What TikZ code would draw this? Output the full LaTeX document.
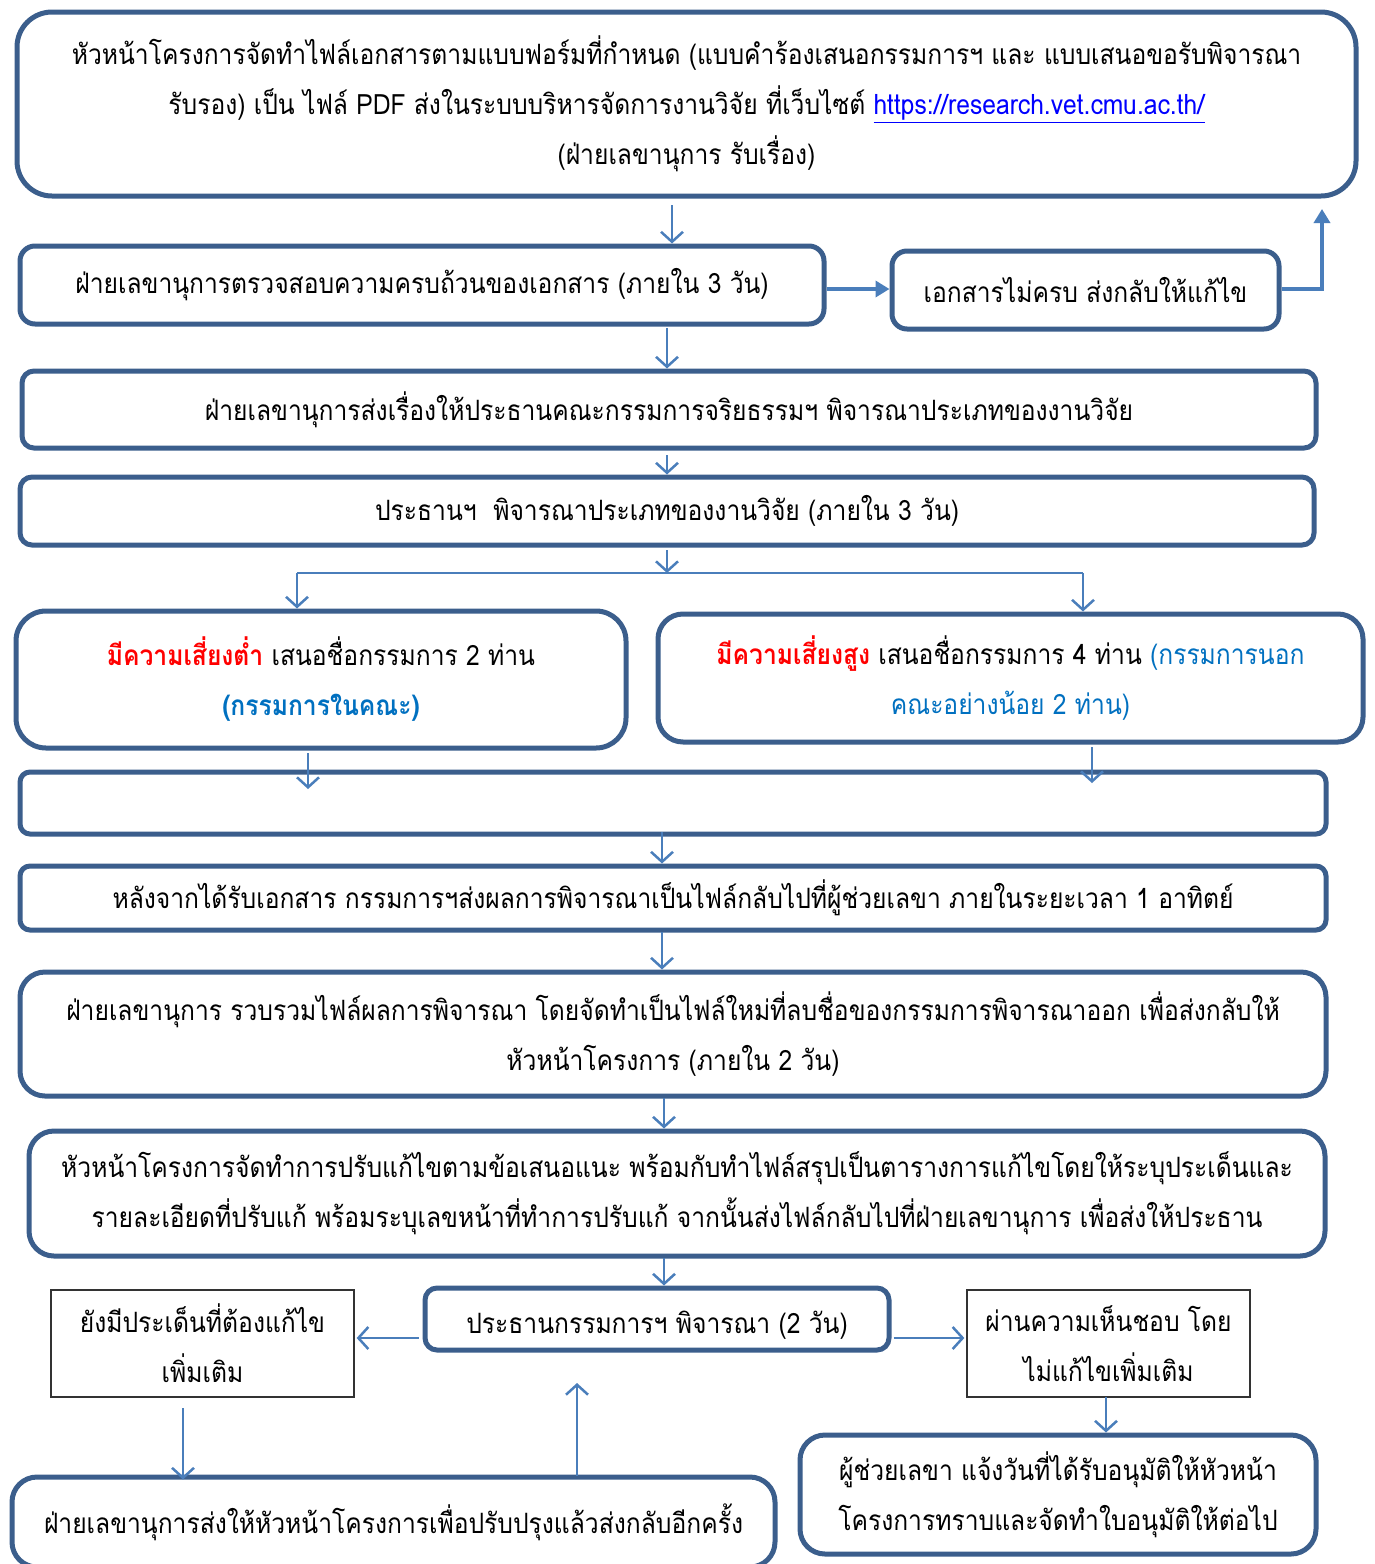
\documentclass[tikz,border=0pt]{standalone}
\usepackage{fontspec}
\setmainfont[Script=Thai,FakeStretch=0.88]{Loma}
\usetikzlibrary{arrows.meta}
\definecolor{boxc}{HTML}{3B5E8C}
\definecolor{arrc}{HTML}{4A7EBB}
\definecolor{blu}{HTML}{0070C0}
\definecolor{urlc}{HTML}{0000FF}
\begin{document}
\begin{tikzpicture}[x=1pt,y=-1pt,
  every node/.style={font=\fontsize{28}{50}\selectfont, align=center, inner sep=0pt},
  rbox/.style={draw=boxc, line width=5pt, rounded corners=#1, fill=white},
  pbox/.style={draw=black!80, line width=1.3pt, fill=white},
  conn/.style={draw=arrc, line width=2.5pt, -{Straight Barb[length=10pt,width=22pt,line width=2.5pt]}},
  thick conn/.style={draw=arrc, line width=4pt, -{Triangle[length=14pt,width=16pt]}},
  plainline/.style={draw=arrc, line width=2.5pt}
]
\useasboundingbox (0,0) rectangle (1375,1564);
% boxes
\node[rbox=35, minimum width=1339, minimum height=184] (b1) at (686.5,104) {หัวหน้าโครงการจัดทำไฟล์เอกสารตามแบบฟอร์มที่กำหนด (แบบคำร้องเสนอกรรมการฯ และ แบบเสนอขอรับพิจารณา\\ รับรอง) เป็น ไฟล์ PDF ส่งในระบบบริหารจัดการงานวิจัย ที่เว็บไซต์ {\color{urlc}\underline{https://research.vet.cmu.ac.th/}}\\ (ฝ่ายเลขานุการ รับเรื่อง)};
\node[rbox=15, minimum width=804, minimum height=78] (b2) at (422,285) {ฝ่ายเลขานุการตรวจสอบความครบถ้วนของเอกสาร (ภายใน 3 วัน)};
\node[rbox=15, minimum width=387, minimum height=78] (b3) at (1085.5,290) {เอกสารไม่ครบ ส่งกลับให้แก้ไข};
\node[rbox=12, minimum width=1294, minimum height=77] (b4) at (669,409.5) {ฝ่ายเลขานุการส่งเรื่องให้ประธานคณะกรรมการจริยธรรมฯ พิจารณาประเภทของงานวิจัย};
\node[rbox=12, minimum width=1294, minimum height=68] (b5) at (667,511) {ประธานฯ \ พิจารณาประเภทของงานวิจัย (ภายใน 3 วัน)};
\node[rbox=30, minimum width=610, minimum height=137] (b6) at (321,679.5) {{\color{red}\bfseries มีความเสี่ยงต่ำ} เสนอชื่อกรรมการ 2 ท่าน\\ {\color{blu}\bfseries (กรรมการในคณะ)}};
\node[rbox=25, minimum width=705, minimum height=128] (b7) at (1010.5,678) {{\color{red}\bfseries มีความเสี่ยงสูง} เสนอชื่อกรรมการ 4 ท่าน {\color{blu}(กรรมการนอก}\\ {\color{blu}คณะอย่างน้อย 2 ท่าน)}};
\node[rbox=10, minimum width=1306, minimum height=62] (b8) at (673,803) {};
\node[rbox=10, minimum width=1306, minimum height=64] (b9) at (673,898) {หลังจากได้รับเอกสาร กรรมการฯส่งผลการพิจารณาเป็นไฟล์กลับไปที่ผู้ช่วยเลขา ภายในระยะเวลา 1 อาทิตย์};
\node[rbox=25, minimum width=1306, minimum height=124] (b10) at (673,1034) {ฝ่ายเลขานุการ รวบรวมไฟล์ผลการพิจารณา โดยจัดทำเป็นไฟล์ใหม่ที่ลบชื่อของกรรมการพิจารณาออก เพื่อส่งกลับให้\\ หัวหน้าโครงการ (ภายใน 2 วัน)};
\node[rbox=25, minimum width=1296, minimum height=125] (b11) at (677,1193.5) {หัวหน้าโครงการจัดทำการปรับแก้ไขตามข้อเสนอแนะ พร้อมกับทำไฟล์สรุปเป็นตารางการแก้ไขโดยให้ระบุประเด็นและ\\ รายละเอียดที่ปรับแก้ พร้อมระบุเลขหน้าที่ทำการปรับแก้ จากนั้นส่งไฟล์กลับไปที่ฝ่ายเลขานุการ เพื่อส่งให้ประธาน};
\node[rbox=12, minimum width=464, minimum height=62, text height=34pt, text depth=6pt] (b12) at (657,1319) {ประธานกรรมการฯ พิจารณา (2 วัน)};
\node[pbox, minimum width=303, minimum height=107] (b13) at (202.5,1343.5) {ยังมีประเด็นที่ต้องแก้ไข\\ เพิ่มเติม};
\node[pbox, minimum width=283, minimum height=107] (b14) at (1108.5,1343.5) {ผ่านความเห็นชอบ โดย\\ ไม่แก้ไขเพิ่มเติม};
\node[rbox=25, minimum width=763, minimum height=90] (b15) at (393.5,1522) {ฝ่ายเลขานุการส่งให้หัวหน้าโครงการเพื่อปรับปรุงแล้วส่งกลับอีกครั้ง};
\node[rbox=25, minimum width=516, minimum height=119] (b16) at (1058,1494.5) {ผู้ช่วยเลขา แจ้งวันที่ได้รับอนุมัติให้หัวหน้า\\ โครงการทราบและจัดทำใบอนุมัติให้ต่อไป};
% column coordinates
\coordinate (c1) at (672,205);
\coordinate (c2) at (667,328);
\coordinate (c3) at (667,455);
\coordinate (c4) at (667,550);
\coordinate (hy) at (667,573);
\coordinate (hl) at (297,573);
\coordinate (hr) at (1083,573);
\coordinate (c5) at (308,753);
\coordinate (c5e) at (308,789);
\coordinate (c6) at (1092,747);
\coordinate (c6e) at (1092,783);
\coordinate (c7) at (662,832);
\coordinate (c8) at (662,932);
\coordinate (c9) at (664,1098);
\coordinate (c10) at (664,1258);
\coordinate (ry) at (0,1338);
\coordinate (c11) at (183,1408);
\coordinate (c12) at (577,1476);
\coordinate (c12e) at (577,1383);
\coordinate (c13) at (1106,1397);
\coordinate (up) at (1322,209);
% connectors
\draw[conn] (c1) -- (c1 |- b2.north);
\draw[thick conn] (b2.east |- 0,289) -- (b3.west |- 0,289);
\draw[thick conn] (b3.east |- 0,289) -| (up);
\draw[conn] (c2) -- (c2 |- b4.north);
\draw[conn] (c3) -- (c3 |- b5.north);
\draw[conn] (c4) -- (hy);
\draw[plainline] (hl) -- (hr);
\draw[conn] (hl) -- (hl |- b6.north);
\draw[conn] (hr) -- (hr |- b7.north);
\draw[conn] (c5) -- (c5e);
\draw[conn] (c6) -- (c6e);
\draw[conn] (c7) -- (c7 |- b9.north);
\draw[conn] (c8) -- (c8 |- b10.north);
\draw[conn] (c9) -- (c9 |- b11.north);
\draw[conn] (c10) -- (c10 |- b12.north);
\draw[conn] ([xshift=-4]b12.west |- ry) -- ([xshift=2]b13.east |- ry);
\draw[conn] ([xshift=2]b12.east |- ry) -- ([xshift=-2]b14.west |- ry);
\draw[conn] (c11) -- ([yshift=-5]c11 |- b15.north);
\draw[conn] (c12) -- (c12e);
\draw[conn] (c13) -- (c13 |- b16.north);
\end{tikzpicture}
\end{document}
